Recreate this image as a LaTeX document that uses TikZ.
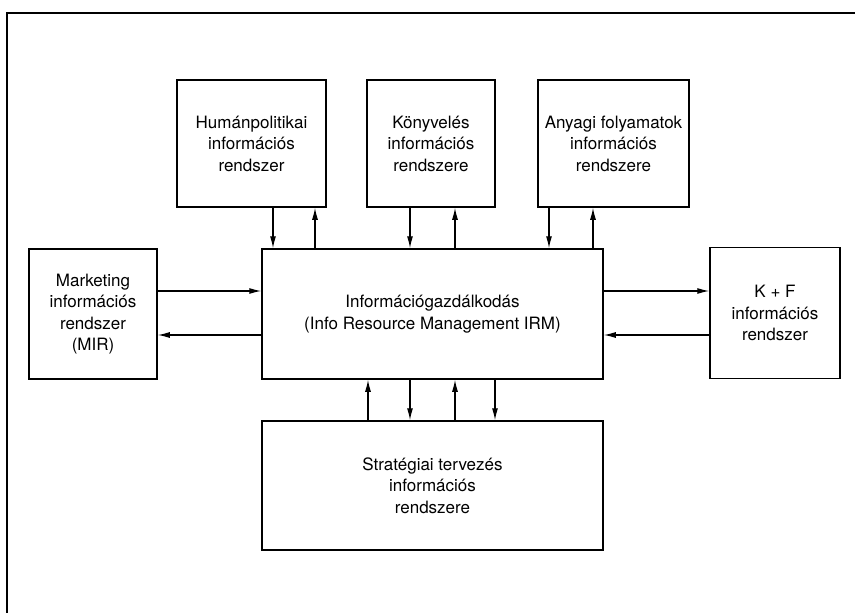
\documentclass[tikz,border=0pt]{standalone}
\usepackage{fontspec}
\setmainfont{TeX Gyre Heros}
\usetikzlibrary{arrows.meta,positioning}

\tikzset{
	rendszer/.style={draw, line width=1.5pt, inner sep=0pt, align=center,
		font=\fontsize{17}{21.5}\selectfont},
	nyil/.style={line width=1.2pt, -{Latex[length=12pt,width=6pt]}}
}

\begin{document}
\begin{tikzpicture}[x=1pt,y=-1pt]
	\useasboundingbox (0,0) rectangle (855,613);
	% keret
	\draw[line width=1.5pt] (7,613)--(7,13)--(855,13);
	% dobozok
	\node (hum) at (251.5,143.5)[rendszer,minimum width=149pt,minimum height=127pt] {Humánpolitikai\\információs\\rendszer};
	\node (konyv) at (431,143.5)[rendszer,minimum width=128pt,minimum height=127pt] {Könyvelés\\információs\\rendszere};
	\node (anyag) at (613.5,143.5)[rendszer,minimum width=151pt,minimum height=127pt] {Anyagi folyamatok\\információs\\rendszere};
	\node (mir) at (93,314)[rendszer,minimum width=128pt,minimum height=130pt] {Marketing\\információs\\rendszer\\(MIR)};
	\node (irm) at (432.5,314)[rendszer,minimum width=341pt,minimum height=130pt] {Információgazdálkodás\\(Info Resource Management IRM)};
	\node (kf) at (775,313)[rendszer,minimum width=130pt,minimum height=131pt] {K + F\\információs\\rendszer};
	\node (strat) at (432.5,485.5)[rendszer,minimum width=341pt,minimum height=129pt] {Stratégiai tervezés\\információs\\rendszere};
	% fenti nyilak
	\draw[nyil] ([xshift=21.5pt]hum.south)--([xshift=21.5pt]hum.south |- irm.north);
	\draw[nyil] ([xshift=63.5pt]hum.south |- irm.north)--([xshift=63.5pt]hum.south);
	\draw[nyil] ([xshift=-21pt]konyv.south)--([xshift=-21pt]konyv.south |- irm.north);
	\draw[nyil] ([xshift=24pt]konyv.south |- irm.north)--([xshift=24pt]konyv.south);
	\draw[nyil] ([xshift=-64.5pt]anyag.south)--([xshift=-64.5pt]anyag.south |- irm.north);
	\draw[nyil] ([xshift=-20.5pt]anyag.south |- irm.north)--([xshift=-20.5pt]anyag.south);
	% oldalso nyilak
	\draw[nyil] ([yshift=23pt]mir.east)--([yshift=23pt]mir.east -| irm.west);
	\draw[nyil] ([yshift=-21pt]mir.east -| irm.west)--([yshift=-21pt]mir.east);
	\draw[nyil] ([yshift=23pt]irm.east)--([yshift=23pt]irm.east -| kf.west);
	\draw[nyil] ([yshift=-21pt]irm.east -| kf.west)--([yshift=-21pt]irm.east);
	% lenti nyilak
	\draw[nyil] ([xshift=-64.5pt]strat.north)--([xshift=-64.5pt]strat.north |- irm.south);
	\draw[nyil] ([xshift=-22.5pt]strat.north |- irm.south)--([xshift=-22.5pt]strat.north);
	\draw[nyil] ([xshift=22.5pt]strat.north)--([xshift=22.5pt]strat.north |- irm.south);
	\draw[nyil] ([xshift=62.5pt]strat.north |- irm.south)--([xshift=62.5pt]strat.north);
\end{tikzpicture}
\end{document}
